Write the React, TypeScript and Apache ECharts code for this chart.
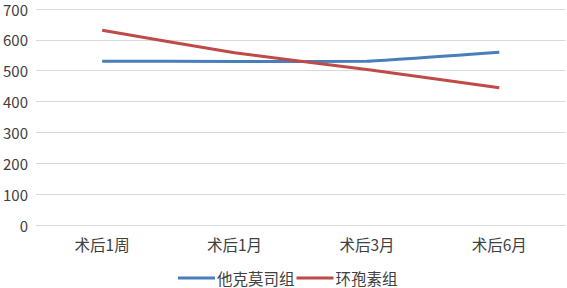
import React, { useEffect, useRef } from "react";
import * as echarts from "echarts";

const categories = ["术后1周", "术后1月", "术后3月", "术后6月"];
const seriesNames = ["他克莫司组", "环孢素组"];
const tacrolimus = [531, 530, 531, 560];
const cyclosporine = [631, 558, 504, 445];
const yTicks = { min: 0, max: 700, interval: 100 };

export default function App() {
  const ref = useRef<HTMLDivElement>(null);
  useEffect(() => {
    document.body.style.margin = "0";
    const chart = echarts.init(ref.current!, null, { renderer: "svg" });
    const font = "'Noto Sans CJK SC', 'Noto Sans', sans-serif";
    chart.setOption({
      animation: false,
      textStyle: { fontFamily: font },
      grid: { left: 33.5, right: 1.5, top: 9, bottom: 63, containLabel: false },
      legend: {
        left: 178,
        top: 268,
        padding: 0,
        itemGap: 2,
        itemWidth: 37,
        itemHeight: 3,
        icon: "rect",
        textStyle: { fontSize: 15.5, lineHeight: 20, color: "#404040", fontFamily: font, padding: [0, 0, 0, -3] },
        data: seriesNames,
      },
      xAxis: {
        type: "category",
        data: categories,
        boundaryGap: true,
        axisLine: { show: true, lineStyle: { color: "#D9D9D9", width: 1 } },
        axisTick: { show: false },
        axisLabel: { fontSize: 15.5, color: "#404040", margin: 11, fontFamily: font },
      },
      yAxis: {
        type: "value",
        min: yTicks.min,
        max: yTicks.max,
        interval: yTicks.interval,
        axisLine: { show: false },
        axisTick: { show: false },
        splitLine: { lineStyle: { color: "#D9D9D9", width: 1 } },
        axisLabel: { fontSize: 15, color: "#404040", margin: 8, fontFamily: font },
      },
      series: [
        {
          name: seriesNames[0],
          type: "line",
          data: tacrolimus,
          smooth: 0.1,
          showSymbol: false,
          symbol: "none",
          lineStyle: { color: "#4A7EBB", width: 3 },
          itemStyle: { color: "#4A7EBB" },
        },
        {
          name: seriesNames[1],
          type: "line",
          data: cyclosporine,
          smooth: 0.1,
          showSymbol: false,
          symbol: "none",
          lineStyle: { color: "#BE4B48", width: 3 },
          itemStyle: { color: "#BE4B48" },
        },
      ],
    });
    return () => chart.dispose();
  }, []);
  return <div ref={ref} style={{ width: 567, height: 288 }} />;
}
